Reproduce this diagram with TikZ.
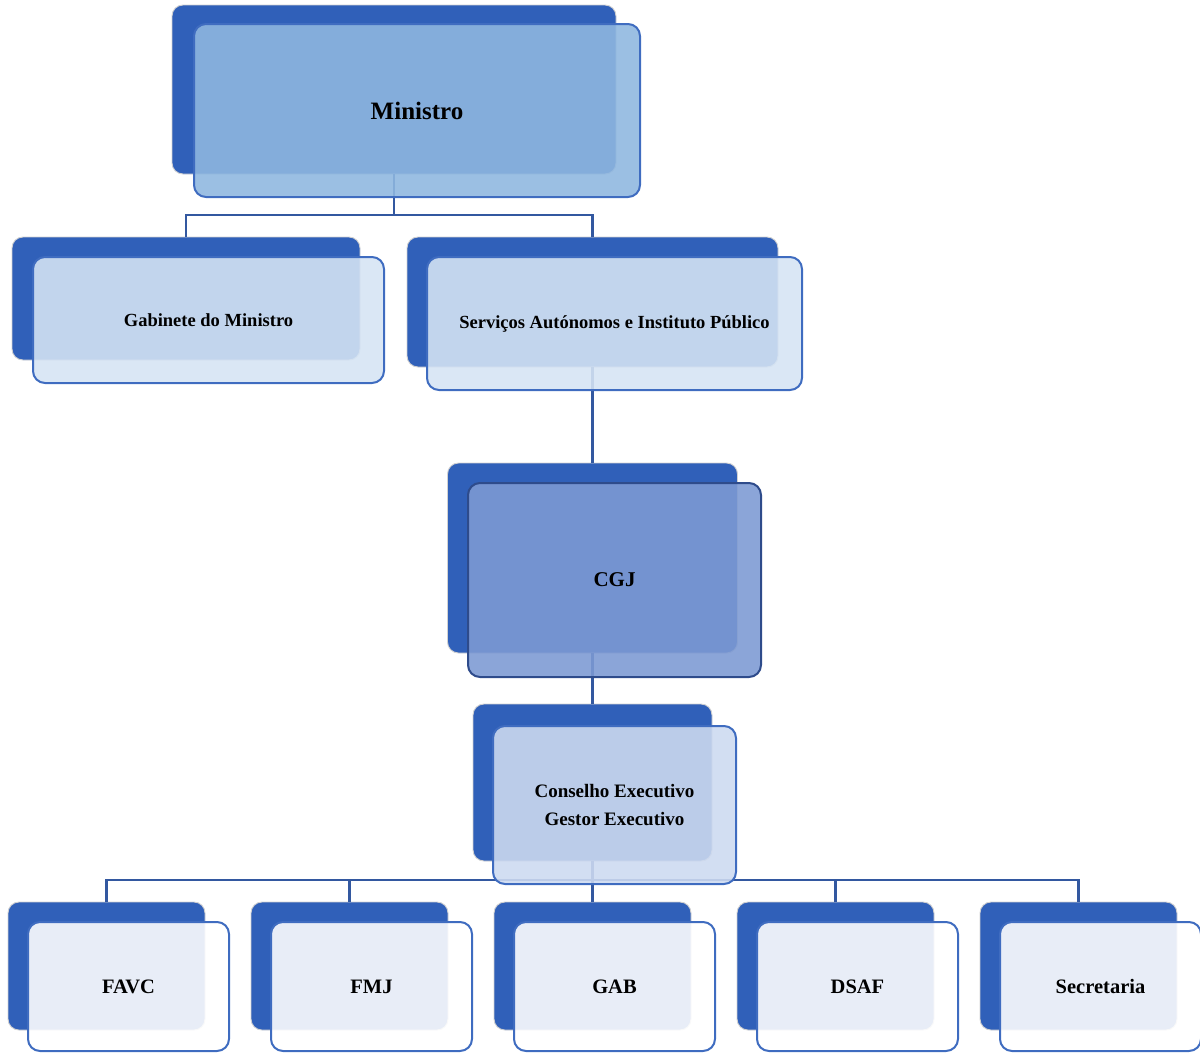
\documentclass[tikz,border=0pt]{standalone}
\usepackage{fontspec}
\setmainfont{Liberation Serif}
\definecolor{backblue}{HTML}{3060B9}
\definecolor{lineblue}{HTML}{3358A0}
\definecolor{edgeblue}{HTML}{3F6CC0}
\definecolor{edgedark}{HTML}{2E4B8B}
\definecolor{minfill}{HTML}{8FB7E0}
\definecolor{lightfill}{HTML}{D5E4F4}
\definecolor{cgjfill}{HTML}{7D9AD3}
\definecolor{confill}{HTML}{CDDAF0}
\begin{document}
\begin{tikzpicture}[x=1pt,y=-1pt,
  backbox/.style={rectangle, rounded corners=11pt, fill=backblue, draw=black!18, line width=0.9pt, outer sep=0pt, inner sep=0pt},
  frontbox/.style={rectangle, rounded corners=12pt, draw=edgeblue, line width=2pt, fill opacity=0.89, text opacity=1, outer sep=0pt, inner sep=2pt, align=center, font=\bfseries},
  conn/.style={draw=lineblue, line width=2.3pt},
]
\useasboundingbox (0,0) rectangle (1200,1053);
% back boxes
\node[backbox, minimum width=444pt, minimum height=169pt] (mB) at (394,89.5) {};
\node[backbox, minimum width=348pt, minimum height=123pt] (gB) at (186,298.5) {};
\node[backbox, minimum width=371pt, minimum height=130pt] (sB) at (592.5,302) {};
\node[backbox, minimum width=290pt, minimum height=190pt] (cB) at (592.5,558) {};
\node[backbox, minimum width=239pt, minimum height=157pt] (eB) at (592.5,782.5) {};
\foreach \i/\x in {1/8,2/251,3/494,4/737,5/980}{
  \node[backbox, minimum width=197pt, minimum height=128pt] (b\i B) at (\x+98.5,966) {};
}
% connectors
\coordinate (bus1) at (394,215);
\coordinate (bus2) at (592.5,880);
\draw[conn] (mB.south) -- (bus1);
\draw[conn] (gB.north) |- (bus1) -| (sB.north);
\draw[conn] (sB.south) -- (cB.north);
\draw[conn] (cB.south) -- (eB.north);
\draw[conn] (eB.south) -- (b3B.north);
\draw[conn] (b1B.north) |- (bus2) -| (b5B.north);
\draw[conn] (b2B.north) |- (bus2);
\draw[conn] (b4B.north) |- (bus2);
% front boxes
\node[frontbox, fill=minfill, minimum width=446pt, minimum height=173pt, font=\bfseries\fontsize{25}{30}\selectfont] (m) at (417,110.5) {Ministro};
\node[frontbox, fill=lightfill, minimum width=351pt, minimum height=126pt, font=\bfseries\fontsize{18.5}{22}\selectfont] (g) at (208.5,320) {Gabinete do Ministro};
\node[frontbox, fill=lightfill, minimum width=375pt, minimum height=133pt, font=\bfseries\fontsize{18.5}{22}\selectfont] (s) at (614.5,323.5) {Serviços Autónomos e Instituto Público};
\node[frontbox, fill=cgjfill, draw=edgedark, minimum width=293pt, minimum height=194pt, font=\bfseries\fontsize{21}{25}\selectfont] (c) at (614.5,580) {CGJ};
\node[frontbox, fill=confill, minimum width=243pt, minimum height=158pt, font=\bfseries\fontsize{19}{28}\selectfont] (e) at (614.5,805) {Conselho Executivo\\Gestor Executivo};
\foreach \i/\x/\t in {1/8/FAVC,2/251/FMJ,3/494/GAB,4/737/DSAF,5/980/Secretaria}{
  \node[frontbox, fill=white, minimum width=201pt, minimum height=129pt, font=\bfseries\fontsize{20.5}{25}\selectfont] (b\i) at (\x+120.5,986.5) {\t};
}
\end{tikzpicture}
\end{document}
